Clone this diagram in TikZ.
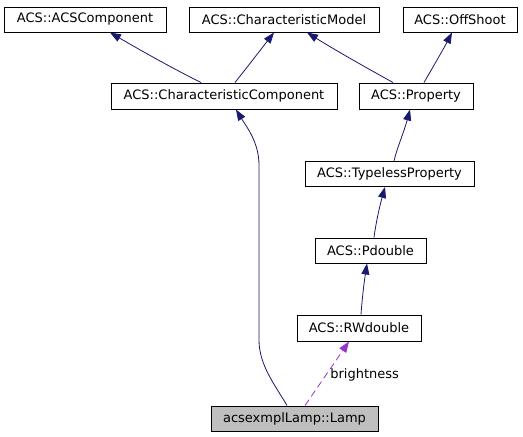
\documentclass[tikz,border=0pt]{standalone}
\usepackage{fontspec}
\setmainfont{DejaVu Sans}
\usetikzlibrary{arrows.meta}
\definecolor{edgeblue}{HTML}{191970}
\definecolor{edgepurple}{HTML}{9932CC}
\definecolor{lampgray}{HTML}{BFBFBF}
\tikzset{
  cls/.style={draw=black, line width=1pt, fill=white, inner sep=0pt, minimum height=25pt, font=\fontsize{13}{15}\selectfont},
  inh/.style={draw=edgeblue, line width=0.8pt, -{Triangle[length=11pt,width=8pt]}, edgeblue},
  use/.style={draw=edgepurple, line width=0.8pt, dash pattern=on 7pt off 4pt, -{Triangle[length=11pt,width=8pt]}, edgepurple},
  lbl/.style={font=\fontsize{13}{15}\selectfont, inner sep=0pt, anchor=west, text=black}
}
\begin{document}
\begin{tikzpicture}[x=1pt,y=-1pt]
\useasboundingbox[fill=white] (0,0) rectangle (523,437);
\node[cls, minimum width=162pt] (acs) at (85,19.5) {ACS::ACSComponent};
\node[cls, minimum width=190pt] (cm) at (284,19.5) {ACS::CharacteristicModel};
\node[cls, minimum width=114pt] (os) at (460,19.5) {ACS::OffShoot};
\node[cls, minimum width=226pt, minimum height=26pt] (cc) at (224,96) {ACS::CharacteristicComponent};
\node[cls, minimum width=114pt, minimum height=26pt] (prop) at (416,96) {ACS::Property};
\node[cls, minimum width=169pt] (tp) at (389.5,174) {ACS::TypelessProperty};
\node[cls, minimum width=111pt] (pd) at (370.5,250.5) {ACS::Pdouble};
\node[cls, minimum width=124pt, minimum height=26pt] (rw) at (359,328) {ACS::RWdouble};
\node[cls, fill=lampgray, minimum width=167pt] (lamp) at (294.5,418.5) {acsexmplLamp::Lamp};

\draw[inh] ([xshift=-23pt]cc.north) .. controls (170,67) and (140,50) .. ([xshift=25pt]acs.south);
\draw[inh] ([xshift=11pt]cc.north) .. controls (245,70) and (262,48) .. ([xshift=-10pt]cm.south);
\draw[inh] ([xshift=-23pt]prop.north) .. controls (365,67) and (335,50) .. ([xshift=23pt]cm.south);
\draw[inh] ([xshift=8pt]prop.north) .. controls (433,67) and (444,48) .. ([xshift=-8pt]os.south);
\draw[inh] ([xshift=-7.5pt]lamp.north) .. controls (275,385) and (259,365) .. (259,340) -- (259,165) .. controls (259,142) and (246,126) .. ([xshift=12pt]cc.south);
\draw[inh] ([xshift=4.5pt]tp.north) .. controls (397,148) and (404,132) .. ([xshift=-6pt]prop.south);
\draw[inh] ([xshift=3.5pt]pd.north) .. controls (376,222) and (380,205) .. ([xshift=-4.5pt]tp.south);
\draw[inh] ([xshift=2pt]rw.north) .. controls (362,300) and (364,283) .. ([xshift=-3.5pt]pd.south);
\draw[use] ([xshift=10.5pt]lamp.north) -- node[pos=0.5, lbl, xshift=3pt, yshift=-1pt] (bl) {brightness} ([xshift=-10pt]rw.south);
\end{tikzpicture}
\end{document}
